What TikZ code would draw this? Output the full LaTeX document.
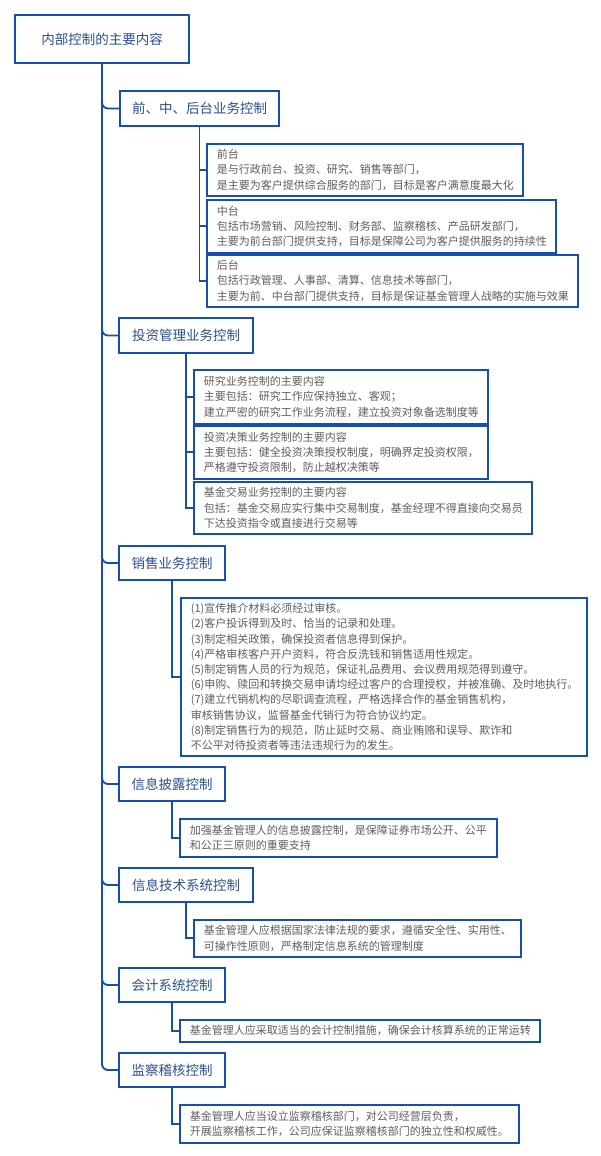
\documentclass[tikz,border=0pt]{standalone}
\usepackage{fontspec}
\setmainfont{Noto Sans CJK SC}
\usetikzlibrary{positioning}
\definecolor{frame}{HTML}{1550B0}
\definecolor{head}{HTML}{2A4F93}
\definecolor{body}{HTML}{5E5E5E}

\begin{document}
\begin{tikzpicture}[x=1pt,y=-1pt,
  topic/.style={draw=frame,line width=2pt,fill=white,text=head,anchor=north west,
    font=\fontsize{13.5}{16}\selectfont,inner sep=0pt,align=center},
  leaf/.style={draw=frame,line width=1.8pt,fill=white,text=body,anchor=north west,
    font=\fontsize{11}{15.2}\selectfont,inner xsep=10pt,inner ysep=0pt,align=left},
  link/.style={draw=frame,line width=1.9pt}]
 \useasboundingbox (0,0) rectangle (600,1156);

 % root and first level
 \node[topic,minimum width=174pt,minimum height=48pt] (root) at (14,14) {内部控制的主要内容};
 \node[topic,minimum width=159pt,minimum height=35pt] (front) at (119,90) {前、中、后台业务控制};
 \node[topic,minimum width=134pt,minimum height=35pt] (invest) at (118,317) {投资管理业务控制};
 \node[topic,minimum width=106pt,minimum height=34pt] (sales) at (118,545) {销售业务控制};
 \node[topic,minimum width=106pt,minimum height=34pt] (disclose) at (118,766) {信息披露控制};
 \node[topic,minimum width=134pt,minimum height=34pt] (infotech) at (118,867) {信息技术系统控制};
 \node[topic,minimum width=106pt,minimum height=34pt] (account) at (118,967) {会计系统控制};
 \node[topic,minimum width=106pt,minimum height=34pt] (audit) at (118,1052) {监察稽核控制};

 % second level
 \node[leaf,text width=296pt,minimum height=52pt] (fdesk) at (206,143)
  {前台\\是与行政前台、投资、研究、销售等部门，\\是主要为客户提供综合服务的部门，目标是客户满意度最大化};
 \node[leaf,text width=329pt,minimum height=53pt] (mdesk) at (206,199)
  {中台\\包括市场营销、风险控制、财务部、监察稽核、产品研发部门，\\主要为前台部门提供支持，目标是保障公司为客户提供服务的持续性};
 \node[leaf,text width=351pt,minimum height=52pt] (bdesk) at (206,254)
  {后台\\包括行政管理、人事部、清算、信息技术等部门，\\主要为前、中台部门提供支持，目标是保证基金管理人战略的实施与效果};
 \node[leaf,text width=274pt,minimum height=54pt] (research) at (193,369)
  {研究业务控制的主要内容\\主要包括：研究工作应保持独立、客观；\\建立严密的研究工作业务流程，建立投资对象备选制度等};
 \node[leaf,text width=274pt,minimum height=53pt] (decide) at (193,425)
  {投资决策业务控制的主要内容\\主要包括：健全投资决策授权制度，明确界定投资权限，\\严格遵守投资限制，防止越权决策等};
 \node[leaf,text width=318pt,minimum height=52pt] (trade) at (193,481)
  {基金交易业务控制的主要内容\\包括：基金交易应实行集中交易制度，基金经理不得直接向交易员\\下达投资指令或直接进行交易等};
 \node[leaf,text width=386pt,minimum height=158pt] (salesrule) at (180,597)
  {(1)宣传推介材料必须经过审核。\\(2)客户投诉得到及时、恰当的记录和处理。\\(3)制定相关政策，确保投资者信息得到保护。\\
   (4)严格审核客户开户资料，符合反洗钱和销售适用性规定。\\(5)制定销售人员的行为规范，保证礼品费用、会议费用规范得到遵守。\\
   (6)申购、赎回和转换交易申请均经过客户的合理授权，并被准确、及时地执行。\\
   (7)建立代销机构的尽职调查流程，严格选择合作的基金销售机构，\\审核销售协议，监督基金代销行为符合协议约定。\\
   (8)制定销售行为的规范，防止延时交易、商业贿赂和误导、欺诈和\\不公平对待投资者等违法违规行为的发生。};
 \node[leaf,text width=297pt,minimum height=38pt] (discrule) at (179,818)
  {加强基金管理人的信息披露控制，是保障证券市场公开、公平\\和公正三原则的重要支持};
 \node[leaf,text width=307pt,minimum height=37pt] (itrule) at (193,919)
  {基金管理人应根据国家法律法规的要求，遵循安全性、实用性、\\可操作性原则，严格制定信息系统的管理制度};
 \node[leaf,text width=340pt,minimum height=22pt] (accrule) at (179,1019)
  {基金管理人应采取适当的会计控制措施，确保会计核算系统的正常运转};
 \node[leaf,text width=319pt,minimum height=38pt] (auditrule) at (179,1104)
  {基金管理人应当设立监察稽核部门，对公司经营层负责，\\开展监察稽核工作，公司应保证监察稽核部门的独立性和权威性。};

 % connectors
 \foreach \t in {front,invest,sales,disclose,infotech,account,audit}
  \draw[link,rounded corners=6pt] (root.south) |- (\t.west);
 \foreach \p/\c in {front/fdesk,front/mdesk,front/bdesk,invest/research,invest/decide,invest/trade,
   sales/salesrule,disclose/discrule,infotech/itrule,account/accrule,audit/auditrule}
  \draw[link] (\p.south) |- (\c.west);
\end{tikzpicture}
\end{document}
